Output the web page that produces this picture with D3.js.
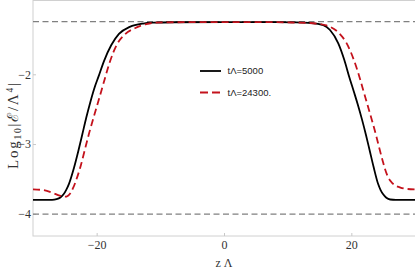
<!DOCTYPE html>
<html>
<head>
<meta charset="utf-8">
<script src="https://cdn.jsdelivr.net/npm/d3@7"></script>
<style>
  body { margin: 0; background: #fff; }
  svg { display: block; }
</style>
</head>
<body>
<div id="chart"></div>
<script>
// data: [z, log10 value]
var early = [
  [-30, -3.80], [-28, -3.80], [-27, -3.80], [-26.3, -3.79], [-25.7, -3.765],
  [-25.2, -3.72], [-24.8, -3.66], [-24.35, -3.57], [-23.56, -3.34],
  [-22.88, -3.10], [-22.25, -2.86], [-21.63, -2.62], [-21.0, -2.40],
  [-20.4, -2.21], [-19.7, -2.03], [-18.85, -1.81], [-17.7, -1.58],
  [-16.5, -1.42], [-14.8, -1.32], [-12.7, -1.272], [-11, -1.26],
  [-8, -1.254], [0, -1.252], [8, -1.253], [11, -1.256], [13.7, -1.265],
  [15.6, -1.295], [16.65, -1.365], [17.95, -1.556], [18.9, -1.795],
  [19.65, -2.03], [20.4, -2.25], [21.0, -2.43], [21.68, -2.65],
  [22.3, -2.87], [22.9, -3.10], [23.5, -3.33], [24.2, -3.57],
  [24.6, -3.66], [25.0, -3.72], [25.5, -3.77], [26.1, -3.795],
  [27, -3.80], [28.5, -3.80], [30, -3.80]
];
var late = [
  [-30, -3.65], [-28.4, -3.66], [-26.9, -3.70], [-25.8, -3.74],
  [-25.0, -3.755], [-24.5, -3.74], [-24.1, -3.70], [-23.7, -3.63],
  [-23.35, -3.55], [-22.5, -3.31], [-21.88, -3.09], [-21.2, -2.85],
  [-20.42, -2.60], [-19.68, -2.37], [-18.74, -2.07], [-17.96, -1.83],
  [-16.8, -1.57], [-15.6, -1.43], [-14.0, -1.34], [-12.2, -1.28],
  [-11.1, -1.262], [-8, -1.254], [0, -1.252], [8, -1.253], [11, -1.258],
  [14.0, -1.268], [16.1, -1.30], [18.07, -1.41], [19.27, -1.556],
  [20.4, -1.795], [21.25, -2.03], [21.85, -2.22], [22.45, -2.41],
  [23.3, -2.68], [23.9, -2.88], [24.4, -3.06], [24.95, -3.25],
  [25.3, -3.36], [25.7, -3.46], [26.25, -3.54], [26.75, -3.585],
  [27.6, -3.62], [28.4, -3.64], [30, -3.65]
];
var refLevels = [-1.245, -4.005];
var xTicks = [-20, 0, 20];
var yTicks = [-4, -3, -2];
var legendLabels = ["t\u039b=5000", "t\u039b=24300."];

var w = 415, h = 270;
var plotLeft = 33, plotRight = 415, plotTop = 0.5, plotBottom = 236;

var svg = d3.select('#chart').append('svg')
    .attr('width', w)
    .attr('height', h);

var x = d3.scaleLinear().domain([-30, 30]).range([plotLeft, plotRight]);
var y = d3.scaleLinear().domain([-4, -2]).range([213.8, 74.3]);

svg.append('clipPath').attr('id', 'clip')
  .append('rect')
    .attr('x', plotLeft).attr('y', plotTop)
    .attr('width', plotRight - plotLeft).attr('height', plotBottom - plotTop);

// frame
svg.append('rect')
    .attr('x', plotLeft).attr('y', plotTop)
    .attr('width', plotRight - plotLeft + 2).attr('height', plotBottom - plotTop)
    .attr('fill', 'none')
    .attr('stroke', '#d0d0d0')
    .attr('stroke-width', 1);

// axes
var xAxis = svg.append('g')
    .attr('transform', 'translate(0,' + plotBottom + ')')
    .call(d3.axisBottom(x).tickValues(xTicks).tickSize(-3).tickPadding(4)
      .tickFormat(function (d) { return d < 0 ? '\u2212' + Math.abs(d) : d; }));
var yAxis = svg.append('g')
    .attr('transform', 'translate(' + plotLeft + ',0)')
    .call(d3.axisLeft(y).tickValues(yTicks).tickSize(-3).tickPadding(2)
      .tickFormat(function (d) { return '\u2212' + Math.abs(d); }));

[xAxis, yAxis].forEach(function (a) {
  a.select('.domain').remove();
  a.selectAll('.tick line').attr('stroke', '#c8c8c8');
  a.selectAll('.tick text')
    .attr('fill', '#333')
    .style('font-family', '"Liberation Serif", serif')
    .style('font-size', '12px');
});

// reference dashed lines
svg.append('g').selectAll('line')
  .data(refLevels)
  .enter().append('line')
    .attr('x1', plotLeft).attr('x2', plotRight)
    .attr('y1', function (d) { return y(d); })
    .attr('y2', function (d) { return y(d); })
    .attr('stroke', '#808080')
    .attr('stroke-width', 1.1)
    .attr('stroke-dasharray', '6,3.5');

var line = d3.line()
    .x(function (d) { return x(d[0]); })
    .y(function (d) { return y(d[1]); })
    .curve(d3.curveMonotoneX);

var curves = svg.append('g').attr('clip-path', 'url(#clip)');
curves.append('path')
    .datum(early)
    .attr('d', line)
    .attr('fill', 'none')
    .attr('stroke', '#000')
    .attr('stroke-width', 1.8);
curves.append('path')
    .datum(late)
    .attr('d', line)
    .attr('fill', 'none')
    .attr('stroke', '#c4121c')
    .attr('stroke-width', 1.8)
    .attr('stroke-dasharray', '7,4');

// legend
var legend = svg.append('g');
var styles = [
  { color: '#000', dash: null },
  { color: '#c4121c', dash: '8,4' }
];
legendLabels.forEach(function (label, i) {
  var ly = 71 + i * 21.5;
  legend.append('line')
      .attr('x1', 200).attr('x2', 221)
      .attr('y1', ly).attr('y2', ly)
      .attr('stroke', styles[i].color)
      .attr('stroke-width', 1.8)
      .attr('stroke-dasharray', styles[i].dash);
  legend.append('text')
      .attr('x', 227.5).attr('y', ly + 3.3)
      .attr('fill', '#222')
      .style('font-family', '"Liberation Sans", Arial, sans-serif')
      .style('font-size', '9.5px')
      .text(label);
});

// axis titles
svg.append('text')
    .attr('x', x(0)).attr('y', 267)
    .attr('text-anchor', 'middle')
    .attr('fill', '#333')
    .style('font-family', '"Liberation Serif", serif')
    .style('font-size', '12px')
    .text('z \u039b');

var yTitle = svg.append('text')
    .attr('transform', 'translate(18,126) rotate(-90)')
    .attr('text-anchor', 'middle')
    .attr('fill', '#333')
    .attr('textLength', 86)
    .attr('lengthAdjust', 'spacing')
    .style('font-family', '"Liberation Serif", serif')
    .style('font-size', '15px');
yTitle.append('tspan').text('Log');
yTitle.append('tspan').attr('dy', 3).style('font-size', '9.5px').text('10');
yTitle.append('tspan').attr('dy', -3).text('|\u2130/\u039b');
yTitle.append('tspan').attr('dy', -5).style('font-size', '9.5px').text('4');
yTitle.append('tspan').attr('dy', 5).text('|');
</script>
</body>
</html>
